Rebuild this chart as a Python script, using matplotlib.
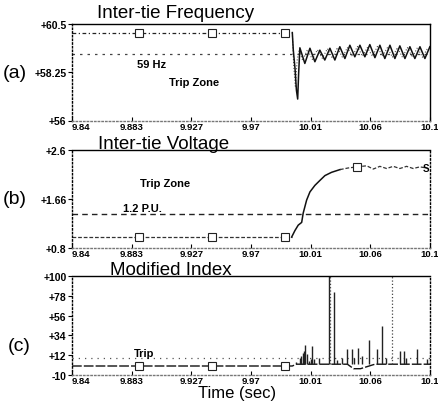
import matplotlib
matplotlib.use("Agg")
import matplotlib.pyplot as plt

plt.rcParams['font.family'] = ['Liberation Sans', 'DejaVu Sans']

# ---- shared time axis ----
x_ticks = [9.84, 9.8833, 9.9267, 9.97, 10.0133, 10.0567, 10.1]
x_labels = ["9.84", "9.883", "9.927", "9.97", "10.01", "10.06", "10.1"]
marker_t = [9.889, 9.942, 9.995]

# ---- (a) inter-tie frequency ----
freq_pre_t = [9.84, 10.000]
freq_pre_v = [60.1, 60.1]
freq_t = [10.000, 10.0007, 10.0020, 10.0030, 10.0039, 10.0046, 10.0055,
          10.0091, 10.0128, 10.0164, 10.0200, 10.0236, 10.0273, 10.0309,
          10.0345, 10.0382, 10.0418, 10.0454, 10.0491, 10.0527, 10.0563,
          10.0600, 10.0636, 10.0672, 10.0709, 10.0745, 10.0781, 10.0818,
          10.0854, 10.0890, 10.0927, 10.0963, 10.0999]
freq_v = [60.1, 59.3, 58.4, 57.4, 57.0, 58.2, 59.39,
          58.66, 59.37, 58.74, 59.28, 58.82, 59.37, 58.82,
          59.44, 58.89, 59.51, 58.97, 59.51, 58.97, 59.54,
          58.93, 59.51, 58.89, 59.51, 58.89, 59.48, 58.89,
          59.44, 58.89, 59.44, 58.89, 59.44]
freq2_t = [10.000, 10.0010, 10.0022, 10.0035, 10.0050, 10.0075, 10.0110,
           10.0146, 10.0182, 10.0218, 10.0255, 10.0291, 10.0327, 10.0364,
           10.0400, 10.0436, 10.0473, 10.0509, 10.0545, 10.0582, 10.0618,
           10.0654, 10.0691, 10.0727, 10.0763, 10.0800, 10.0836, 10.0872,
           10.0909, 10.0945, 10.0981]
freq2_v = [60.1, 58.6, 57.6, 58.8, 59.3, 58.8, 59.3,
           58.85, 59.3, 58.9, 59.35, 58.9, 59.4, 58.95,
           59.4, 59.0, 59.45, 59.0, 59.4, 59.0, 59.45,
           59.0, 59.4, 58.95, 59.4, 58.95, 59.4, 58.95,
           59.4, 58.95, 59.35]
freq_limit = 59.1

# ---- (b) inter-tie voltage ----
volt_pre_t = [9.84, 9.9995]
volt_pre_v = [1.0, 1.0]
volt_rise_t = [9.9995, 10.0019, 10.0043, 10.0068, 10.0079, 10.0104,
               10.0128, 10.0164, 10.0200, 10.0237, 10.0285, 10.0346]
volt_rise_v = [1.0, 1.12, 1.22, 1.27, 1.44, 1.68,
               1.83, 1.95, 2.04, 2.13, 2.19, 2.24]
volt_post_t = [10.0346, 10.0406, 10.0471, 10.0540, 10.0588, 10.0636,
               10.0685, 10.0733, 10.0781, 10.0830, 10.0878, 10.0926, 10.0975]
volt_post_v = [2.24, 2.27, 2.29, 2.31, 2.25, 2.30,
               2.26, 2.30, 2.26, 2.30, 2.26, 2.29, 2.27]
volt_marker_t = [9.889, 9.942, 9.995, 10.0471]
volt_marker_v = [1.0, 1.0, 1.0, 2.29]
volt_limit = 1.42

# ---- (c) modified index ----
idx_base_t = [9.84, 10.000, 10.003, 10.020, 10.040, 10.0445, 10.0495, 10.060, 10.080, 10.1]
idx_base_v = [0, 0, 2, 2, 2, -3, -3, 2, 2, 2]
spike_t = [10.0030, 10.0055, 10.0065, 10.0075, 10.0085, 10.0094, 10.0108,
           10.0120, 10.0135, 10.0145, 10.0159, 10.0193, 10.0268, 10.0305,
           10.0322, 10.0358, 10.0394, 10.0431, 10.0447, 10.0479, 10.0503,
           10.0558, 10.0612, 10.0648, 10.0684, 10.0781, 10.0810, 10.0829,
           10.0902, 10.0975]
spike_v = [5, 9, 11, 15, 17, 23, 13,
           6, 8, 22, 8, 9, 100, 82,
           7, 9, 19, 19, 9, 20, 11,
           29, 19, 44, 9, 17, 17, 9,
           19, 8]
spike2_t = [10.0272, 10.0727]
spike2_v = [100, 100]
idx_limit = 9


def style_axes(ax, right_dotted):
    ax.set_xlim(9.84, 10.1)
    ax.set_xticks(x_ticks)
    ax.set_xticklabels(x_labels)
    ax.get_xticklabels()[0].set_horizontalalignment('left')
    ax.tick_params(axis='x', direction='in', length=3, pad=0.8, labelsize=6.8)
    ax.tick_params(axis='y', direction='out', length=3, pad=1, labelsize=7.5)
    for lab in ax.get_xticklabels() + ax.get_yticklabels():
        lab.set_fontweight('bold')
    ax.spines['left'].set_linestyle(':')
    ax.spines['bottom'].set_linestyle(':')
    ax.spines['bottom'].set_color('#777777')
    if right_dotted:
        ax.spines['right'].set_linestyle(':')
    for s in ax.spines.values():
        s.set_linewidth(1.0)


fig = plt.figure(figsize=(4.39, 4.02), dpi=100)
W, H = 439, 402
ax_a = fig.add_axes([72 / W, 1 - 121.5 / H, 358 / W, 96.5 / H])
ax_b = fig.add_axes([72 / W, 1 - 249 / H, 358 / W, 98 / H])
ax_c = fig.add_axes([72 / W, 1 - 376 / H, 358 / W, 99 / H])

dash_pre = (0, (3, 2, 1, 2))

# (a)
ax_a.axhline(freq_limit, color='#444444', lw=0.9, ls=(0, (2, 4)))
ax_a.plot(freq_pre_t, freq_pre_v, color='#222222', lw=0.9, ls=dash_pre)
ax_a.plot(freq2_t, freq2_v, color='#555555', lw=0.8, ls=':')
ax_a.plot(freq_t, freq_v, color='#111111', lw=1.1)
ax_a.plot(marker_t, [freq_pre_v[0]] * len(marker_t), ls='none', marker='s',
          ms=6, mfc='white', mec='#222222', mew=0.8)
ax_a.set_ylim(56, 60.5)
ax_a.set_yticks([56, 58.25, 60.5])
ax_a.set_yticklabels(["+56", "+58.25", "+60.5"])
ax_a.text(9.898, 58.65, "59 Hz", fontsize=8, fontweight='bold', ha='center', va='center')
ax_a.text(9.929, 57.81, "Trip Zone", fontsize=8, fontweight='bold', ha='center', va='center')
style_axes(ax_a, False)

# (b)
ax_b.axhline(volt_limit, color='#222222', lw=1.0, ls=(0, (4, 3)))
ax_b.plot(volt_pre_t, volt_pre_v, color='#333333', lw=0.9, ls=(0, (3, 1.5)))
ax_b.plot(volt_rise_t, volt_rise_v, color='#111111', lw=1.1)
ax_b.plot(volt_post_t, volt_post_v, color='#333333', lw=0.9, ls=(0, (3, 1.5)))
ax_b.plot(volt_marker_t, volt_marker_v, ls='none', marker='s',
          ms=6, mfc='white', mec='#222222', mew=0.8)
ax_b.text(10.0995, volt_post_v[-1], "S", fontsize=7, fontweight='bold', ha='right', va='center')
ax_b.set_ylim(0.8, 2.6)
ax_b.set_yticks([0.8, 1.7, 2.6])
ax_b.set_yticklabels(["+0.8", "+1.66", "+2.6"])
ax_b.text(9.9075, 1.99, "Trip Zone", fontsize=8, fontweight='bold', ha='center', va='center')
ax_b.text(9.891, 1.53, "1.2 P.U.", fontsize=8, fontweight='bold', ha='center', va='center')
style_axes(ax_b, True)

# (c)
ax_c.axhline(idx_limit, color='#555555', lw=0.9, ls=(0, (1, 4)))
ax_c.plot(idx_base_t, idx_base_v, color='#111111', lw=1.0, ls=(0, (7, 1.5)))
ax_c.vlines(spike_t, 2, spike_v, color='#222222', lw=1.0)
ax_c.vlines(spike2_t, 2, spike2_v, color='#444444', lw=0.9, ls=':')
ax_c.plot(marker_t, [0] * len(marker_t), ls='none', marker='s',
          ms=6, mfc='white', mec='#222222', mew=0.8)
ax_c.set_ylim(-10, 100)
ax_c.set_yticks([-10, 12, 34, 56, 78, 100])
ax_c.set_yticklabels(["-10", "+12", "+34", "+56", "+78", "+100"])
ax_c.text(9.892, 14, "Trip", fontsize=8, fontweight='bold', ha='center', va='center')
style_axes(ax_c, True)

fig.text(97 / W, 1 - 18 / H, "Inter-tie Frequency", fontsize=13.5, ha='left', va='baseline')
fig.text(98 / W, 1 - 149 / H, "Inter-tie Voltage", fontsize=13.5, ha='left', va='baseline')
fig.text(110 / W, 1 - 275 / H, "Modified Index", fontsize=13.5, ha='left', va='baseline')
fig.text(3 / W, 1 - 74 / H, "(a)", fontsize=14, ha='left', va='center')
fig.text(3 / W, 1 - 200 / H, "(b)", fontsize=14, ha='left', va='center')
fig.text(8 / W, 1 - 347 / H, "(c)", fontsize=14, ha='left', va='center')
fig.text(237 / W, 1 - 394 / H, "Time (sec)", fontsize=12, ha='center', va='center')

fig.savefig("out.png", dpi=100)
